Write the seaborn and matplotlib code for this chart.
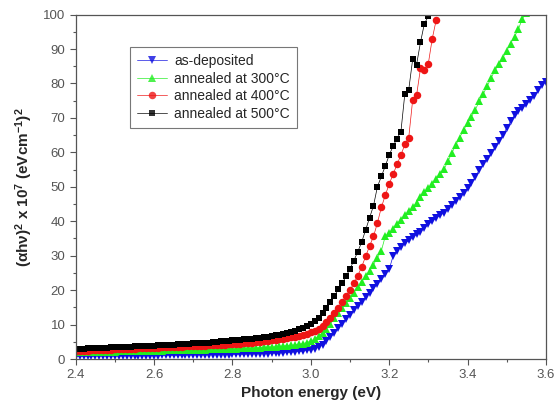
import numpy as np
import pandas as pd
import matplotlib
matplotlib.use("Agg")
import matplotlib.pyplot as plt
from matplotlib.ticker import MultipleLocator
import seaborn as sns

# photon energy grid (eV), 0.01 eV steps
energy = [
    2.40, 2.41, 2.42, 2.43, 2.44, 2.45, 2.46, 2.47, 2.48, 2.49,
    2.50, 2.51, 2.52, 2.53, 2.54, 2.55, 2.56, 2.57, 2.58, 2.59,
    2.60, 2.61, 2.62, 2.63, 2.64, 2.65, 2.66, 2.67, 2.68, 2.69,
    2.70, 2.71, 2.72, 2.73, 2.74, 2.75, 2.76, 2.77, 2.78, 2.79,
    2.80, 2.81, 2.82, 2.83, 2.84, 2.85, 2.86, 2.87, 2.88, 2.89,
    2.90, 2.91, 2.92, 2.93, 2.94, 2.95, 2.96, 2.97, 2.98, 2.99,
    3.00, 3.01, 3.02, 3.03, 3.04, 3.05, 3.06, 3.07, 3.08, 3.09,
    3.10, 3.11, 3.12, 3.13, 3.14, 3.15, 3.16, 3.17, 3.18, 3.19,
    3.20, 3.21, 3.22, 3.23, 3.24, 3.25, 3.26, 3.27, 3.28, 3.29,
    3.30, 3.31, 3.32, 3.33, 3.34, 3.35, 3.36, 3.37, 3.38, 3.39,
    3.40, 3.41, 3.42, 3.43, 3.44, 3.45, 3.46, 3.47, 3.48, 3.49,
    3.50, 3.51, 3.52, 3.53, 3.54, 3.55, 3.56, 3.57, 3.58, 3.59,
    3.60,
]

# (alpha h nu)^2 x 10^7 (eV cm^-1)^2
as_deposited = [
    0.8, 0.8, 0.8, 0.8, 0.8, 0.9, 0.9, 0.9, 0.9, 0.9,
    0.9, 0.9, 0.9, 1.0, 1.0, 1.0, 1.0, 1.0, 1.0, 1.0,
    1.0, 1.0, 1.1, 1.1, 1.1, 1.1, 1.1, 1.1, 1.1, 1.2,
    1.2, 1.2, 1.2, 1.2, 1.2, 1.3, 1.3, 1.3, 1.3, 1.3,
    1.4, 1.4, 1.4, 1.4, 1.5, 1.5, 1.5, 1.6, 1.6, 1.6,
    1.7, 1.7, 1.8, 1.8, 1.9, 2.0, 2.1, 2.2, 2.3, 2.5,
    2.7, 3.0, 3.4, 4.1, 5.1, 6.3, 7.6, 8.9, 10.2, 11.5,
    12.8, 14.1, 15.4, 16.7, 18.0, 19.3, 20.5, 21.8, 23.2, 24.6,
    26.0, 29.9, 31.4, 32.6, 33.6, 34.5, 35.4, 36.2, 37.0, 38.0,
    39.1, 40.0, 40.9, 41.7, 42.5, 43.6, 44.8, 45.9, 47.0, 48.1,
    49.6, 51.2, 52.9, 54.9, 56.6, 58.2, 59.8, 61.5, 63.3, 65.1,
    67.0, 69.0, 70.9, 71.9, 72.9, 74.0, 75.2, 76.5, 78.0, 79.5,
    80.5,
]

annealed_300 = [
    1.9, 1.9, 1.9, 2.0, 2.0, 2.0, 2.0, 2.1, 2.1, 2.1,
    2.1, 2.2, 2.2, 2.2, 2.2, 2.3, 2.3, 2.3, 2.3, 2.4,
    2.4, 2.4, 2.4, 2.5, 2.5, 2.5, 2.5, 2.6, 2.6, 2.6,
    2.6, 2.7, 2.7, 2.7, 2.8, 2.8, 2.8, 2.9, 2.9, 2.9,
    3.0, 3.0, 3.1, 3.1, 3.2, 3.2, 3.3, 3.3, 3.4, 3.5,
    3.5, 3.6, 3.7, 3.8, 3.9, 4.0, 4.1, 4.3, 4.5, 4.8,
    5.2, 5.8, 6.6, 7.6, 8.8, 10.2, 11.8, 13.3, 14.8, 16.3,
    17.8, 19.3, 20.8, 22.4, 24.0, 25.6, 27.4, 29.4, 31.4, 35.6,
    36.6, 37.8, 39.2, 40.5, 41.8, 42.9, 44.0, 45.4, 47.0, 48.4,
    49.6, 50.8, 52.2, 53.6, 55.1, 57.4, 59.8, 62.1, 64.3, 66.5,
    68.4, 70.3, 72.4, 74.8, 76.9, 79.2, 81.5, 83.8, 85.6, 87.4,
    89.5, 91.6, 93.6, 95.8, 98.8, 100.5,
]

annealed_400 = [
    2.3, 2.3, 2.4, 2.4, 2.5, 2.5, 2.6, 2.6, 2.7, 2.7,
    2.8, 2.8, 2.9, 2.9, 3.0, 3.0, 3.1, 3.1, 3.2, 3.2,
    3.3, 3.3, 3.4, 3.4, 3.5, 3.5, 3.6, 3.6, 3.7, 3.7,
    3.8, 3.8, 3.9, 3.9, 4.0, 4.0, 4.1, 4.2, 4.2, 4.3,
    4.4, 4.5, 4.5, 4.6, 4.7, 4.8, 4.9, 5.0, 5.1, 5.2,
    5.4, 5.5, 5.7, 5.9, 6.1, 6.3, 6.5, 6.8, 7.1, 7.4,
    7.8, 8.2, 8.7, 9.6, 10.8, 12.0, 13.3, 14.9, 16.5, 18.2,
    20.0, 22.0, 24.2, 26.8, 29.8, 32.8, 35.6, 39.5, 44.0, 47.5,
    50.8, 53.6, 56.5, 59.2, 62.3, 64.3, 75.2, 76.6, 84.4, 83.9,
    85.8, 93.0, 98.4,
]

annealed_500 = [
    2.9, 3.0, 3.0, 3.1, 3.1, 3.2, 3.2, 3.3, 3.3, 3.4,
    3.4, 3.5, 3.5, 3.6, 3.6, 3.7, 3.7, 3.8, 3.8, 3.9,
    3.9, 4.0, 4.0, 4.1, 4.2, 4.2, 4.3, 4.4, 4.4, 4.5,
    4.6, 4.6, 4.7, 4.8, 4.8, 4.9, 5.0, 5.1, 5.2, 5.3,
    5.4, 5.5, 5.6, 5.7, 5.8, 5.9, 6.0, 6.2, 6.3, 6.5,
    6.7, 6.9, 7.1, 7.3, 7.6, 7.9, 8.2, 8.6, 9.0, 9.5,
    10.1, 10.9, 12.0, 13.4, 14.9, 16.5, 18.3, 20.2, 22.0, 24.0,
    26.2, 28.6, 31.2, 34.0, 37.5, 41.0, 44.5, 50.0, 53.0, 56.0,
    59.2, 61.8, 64.0, 66.0, 77.0, 78.2, 87.0, 85.5, 92.0, 97.4,
    99.5,
]

series = [
    ("as-deposited", as_deposited, "#1010e0", "v", 6.2),
    ("annealed at 300\u00b0C", annealed_300, "#22ee22", "^", 6.2),
    ("annealed at 400\u00b0C", annealed_400, "#ee1515", "o", 5.4),
    ("annealed at 500\u00b0C", annealed_500, "#000000", "s", 4.8),
]

sns.set_style("ticks")
plt.rcParams["font.family"] = ["Liberation Sans", "DejaVu Sans"]
plt.rcParams["mathtext.fontset"] = "custom"
plt.rcParams["mathtext.rm"] = "Liberation Sans:bold"
plt.rcParams["mathtext.bf"] = "Liberation Sans:bold"
plt.rcParams["mathtext.it"] = "Liberation Sans:bold"

fig = plt.figure(figsize=(5.57, 4.17), dpi=100)
ax = fig.add_axes([0.136, 0.139, 0.844, 0.826])

for name, vals, col, mk, ms in series:
    df = pd.DataFrame({"E": energy[:len(vals)], "v": vals})
    sns.lineplot(data=df, x="E", y="v", ax=ax, color=col, marker=mk,
                 markersize=ms, markeredgewidth=0, linewidth=0.5,
                 label=name)

ax.set_xlim(2.4, 3.6)
ax.set_ylim(0, 100)
ax.xaxis.set_major_locator(MultipleLocator(0.2))
ax.xaxis.set_minor_locator(MultipleLocator(0.1))
ax.yaxis.set_major_locator(MultipleLocator(10))
ax.yaxis.set_minor_locator(MultipleLocator(5))
ax.xaxis.set_major_formatter(matplotlib.ticker.FormatStrFormatter("%.1f"))
ax.tick_params(which="major", direction="out", length=4, width=0.8,
               colors="#555555", labelsize=9.5)
ax.tick_params(which="minor", direction="out", length=2.5, width=0.8,
               colors="#555555")
for sp in ax.spines.values():
    sp.set_color("#555555")
    sp.set_linewidth(0.9)

ax.set_xlabel("Photon energy (eV)", fontsize=11, fontweight="bold", labelpad=3)
ax.set_ylabel("(\u03b1h\u03bd)$^2$ x 10$^7$ (eVcm$^{-1}$)$^2$", fontsize=11,
              fontweight="bold", labelpad=6)

leg = ax.legend(loc="upper left", bbox_to_anchor=(0.10, 0.925), fontsize=10,
                frameon=True, fancybox=False, handlelength=2.2,
                borderpad=0.5, labelspacing=0.25, handletextpad=0.5)
leg.get_frame().set_edgecolor("#555555")
leg.get_frame().set_linewidth(0.8)
for line in leg.get_lines():
    line.set_linewidth(0.6)
    line.set_alpha(0.8)

fig.savefig("out.png", dpi=100)
